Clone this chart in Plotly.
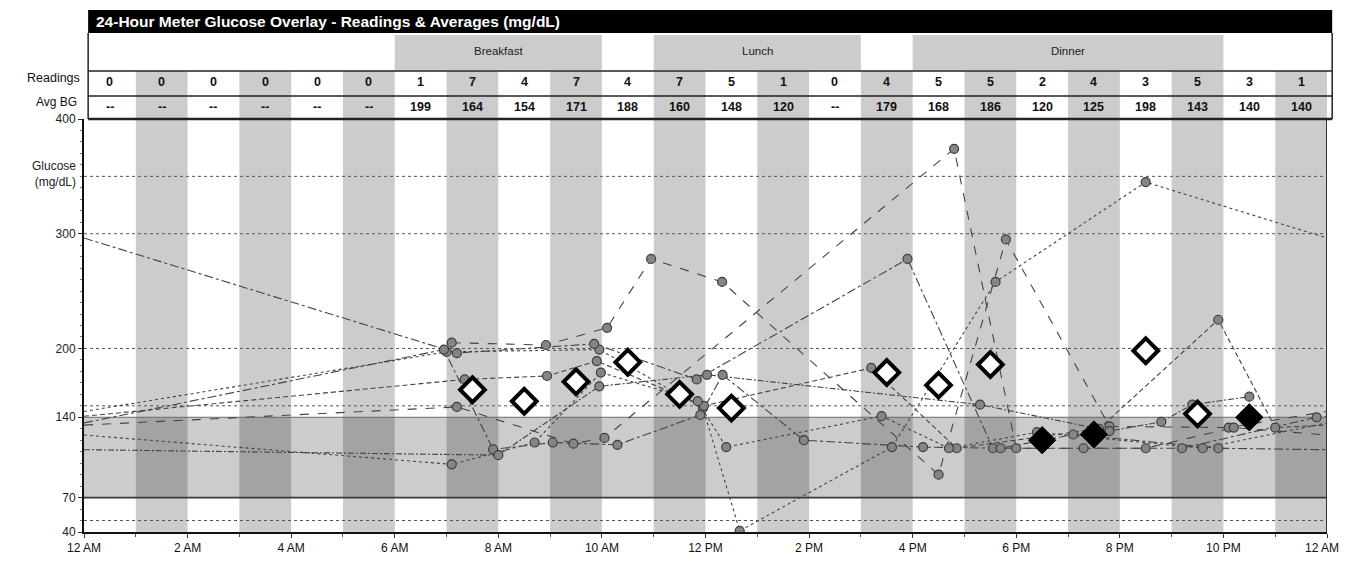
import plotly.graph_objects as go

# ---------------- data ----------------
hour_ticks = [0, 2, 4, 6, 8, 10, 12, 14, 16, 18, 20, 22, 24]
hour_labels = ["12 AM", "2 AM", "4 AM", "6 AM", "8 AM", "10 AM", "12 PM",
               "2 PM", "4 PM", "6 PM", "8 PM", "10 PM", "12 AM"]
readings_count = [0, 0, 0, 0, 0, 0, 1, 7, 4, 7, 4, 7, 5, 1, 0, 4, 5, 5, 2, 4, 3, 5, 3, 1]
avg_bg = [None, None, None, None, None, None, 199, 164, 154, 171, 188, 160, 148, 120,
          None, 179, 168, 186, 120, 125, 198, 143, 140, 140]
meal_names = ["Breakfast", "Lunch", "Dinner"]
meal_start = [6, 11, 16]
meal_end = [10, 15, 22]
y_ticks = [40, 70, 140, 200, 300, 400]
grid_vals = [50, 150, 200, 300, 350]
target_low = 70
target_high = 140

# readings per day (hour of day, mg/dL)
day_hours = [
    [7.1, 8.92, 10.1, 10.95, 12.32, 16.5, 17.8, 19.8, 22.1],
    [7.0, 9.95, 11.95, 12.66, 15.6, 17.6, 20.5],
    [7.2, 9.85, 11.83, 15.9, 17.55, 19.3, 21.2, 23.8],
    [7.35, 8.94, 9.9, 11.97, 15.2, 16.85, 19.6, 21.9, 23.0],
    [7.2, 9.45, 10.05, 16.8, 18.0, 20.5, 22.2],
    [7.1, 8.7, 9.98, 11.85, 12.4, 15.4, 16.7, 18.4, 21.6],
    [6.95, 7.9, 9.05, 10.3, 11.9, 12.33, 13.9, 16.2, 17.7, 19.1, 21.9],
    [8.0, 9.95, 12.03, 17.3, 19.8, 20.8, 21.4, 22.5],
]
day_bg = [
    [205, 203, 218, 278, 258, 90, 295, 132, 131],
    [197, 199, 148, 41, 114, 258, 345],
    [196, 204, 173, 278, 113, 113, 113, 140],
    [173, 176, 189, 150, 183, 113, 130, 225, 131],
    [149, 117, 122, 374, 113, 113, 131],
    [99, 118, 179, 154, 114, 141, 113, 127, 113],
    [199, 112, 118, 116, 142, 177, 120, 114, 113, 125, 113],
    [107, 167, 177, 151, 128, 136, 151, 158],
]

# ---------------- layout helpers ----------------
OFF = 8                      # page offset of the figure (body margin)
W, H = 1350 - OFF, 568 - 2 * OFF
PLOT_LEFT, PLOT_RIGHT = 84, 1327   # target page pixels
PLOT_TOP, PLOT_BOTTOM = 119, 532
M_L = PLOT_LEFT - OFF
M_R = W - (PLOT_RIGHT - OFF)
M_T = 0
M_B = H - (PLOT_BOTTOM - OFF)
plot_h = H - M_T - M_B
y_dom_top = (PLOT_BOTTOM - PLOT_TOP) / plot_h


def py(px):
    """page pixel row -> paper y"""
    return (PLOT_BOTTOM - px) / plot_h


def pxp(px):
    """page pixel column -> paper x"""
    return (px - PLOT_LEFT) / (PLOT_RIGHT - PLOT_LEFT)


def xp(h):
    return h / 24.0


FONT = "Liberation Sans, Arial, sans-serif"
LINE_COL = "#444444"
SHADE = "rgba(0,0,0,0.20)"

fig = go.Figure()

# wrap lines across midnight
n_days = len(day_hours)
mid_in = [None] * n_days
mid_out = [None] * n_days
for i in range(n_days - 1):
    t1, v1 = day_hours[i][-1], day_bg[i][-1]
    t2, v2 = day_hours[i + 1][0] + 24, day_bg[i + 1][0]
    vm = v1 + (v2 - v1) * (24 - t1) / (t2 - t1)
    mid_out[i] = vm
    mid_in[i + 1] = vm

dashes = ["dash", "dot", "dashdot", "5px,3px", "dash", "dot", "dashdot", "6px,2px,2px,2px"]
for i in range(n_days):
    xs = list(day_hours[i])
    ys = list(day_bg[i])
    if mid_in[i] is not None:
        xs = [0] + xs
        ys = [mid_in[i]] + ys
    if mid_out[i] is not None:
        xs = xs + [24]
        ys = ys + [mid_out[i]]
    fig.add_trace(go.Scatter(x=xs, y=ys, mode="lines",
                             line=dict(color=LINE_COL, width=1.1, dash=dashes[i % len(dashes)]),
                             hoverinfo="skip", showlegend=False))

all_x = [h for d in day_hours for h in d]
all_y = [v for d in day_bg for v in d]
fig.add_trace(go.Scatter(x=all_x, y=all_y, mode="markers",
                         marker=dict(symbol="circle", size=9, color="#858585",
                                     line=dict(color="#3c3c3c", width=1.2)),
                         showlegend=False))

# averages as diamonds (only when 2+ readings)
open_x, open_y, fill_x, fill_y = [], [], [], []
for h in range(24):
    if avg_bg[h] is not None and readings_count[h] >= 2:
        if avg_bg[h] <= target_high:
            fill_x.append(h + 0.5)
            fill_y.append(avg_bg[h])
        else:
            open_x.append(h + 0.5)
            open_y.append(avg_bg[h])
fig.add_trace(go.Scatter(x=open_x, y=open_y, mode="markers",
                         marker=dict(symbol="diamond", size=19, color="white",
                                     line=dict(color="black", width=4)),
                         showlegend=False))
fig.add_trace(go.Scatter(x=fill_x, y=fill_y, mode="markers",
                         marker=dict(symbol="diamond", size=21, color="black",
                                     line=dict(color="black", width=1)),
                         showlegend=False))

shapes = []
annotations = []

# hour column shading in plot
for h in range(1, 24, 2):
    shapes.append(dict(type="rect", xref="x", yref="y", x0=h, x1=h + 1, y0=40, y1=400,
                       fillcolor=SHADE, line=dict(width=0), layer="below"))
# target band
shapes.append(dict(type="rect", xref="x", yref="y", x0=0, x1=24, y0=target_low, y1=target_high,
                   fillcolor=SHADE, line=dict(width=0), layer="below"))
# dotted grid
for g in grid_vals:
    shapes.append(dict(type="line", xref="x", yref="y", x0=0, x1=24, y0=g, y1=g,
                       line=dict(color="#555555", width=1, dash="dot"), layer="below"))
# target lines
shapes.append(dict(type="line", xref="x", yref="y", x0=0, x1=24, y0=target_low, y1=target_low,
                   line=dict(color="#3a3a3a", width=1.6), layer="below"))
shapes.append(dict(type="line", xref="x", yref="y", x0=0, x1=24, y0=target_high, y1=target_high,
                   line=dict(color="#6a6a6a", width=1), layer="below"))
# right border
shapes.append(dict(type="line", xref="x", yref="y", x0=24, x1=24, y0=40, y1=400,
                   line=dict(color="#333333", width=2)))

# ---------------- table ----------------
tb_left = xp(0.08)
tb_right = xp(24.1)
shapes.append(dict(type="rect", xref="paper", yref="paper", x0=tb_left, x1=tb_right,
                   y0=py(33), y1=py(10), fillcolor="black", line=dict(width=0)))
annotations.append(dict(xref="paper", yref="paper", x=xp(0.2), y=py(21.5),
                        text="<b>24-Hour Meter Glucose Overlay - Readings &amp; Averages (mg/dL)</b>",
                        showarrow=False, xanchor="left", yanchor="middle",
                        font=dict(family=FONT, size=15.5, color="white")))
for name, s, e in zip(meal_names, meal_start, meal_end):
    shapes.append(dict(type="rect", xref="paper", yref="paper", x0=xp(s), x1=xp(e),
                       y0=py(70), y1=py(35), fillcolor=SHADE, line=dict(width=0)))
    annotations.append(dict(xref="paper", yref="paper", x=xp((s + e) / 2), y=py(51),
                            text=name, showarrow=False, xanchor="center", yanchor="middle",
                            font=dict(family=FONT, size=11.5, color="#222222")))
for h in range(1, 24, 2):
    shapes.append(dict(type="rect", xref="paper", yref="paper", x0=xp(h), x1=xp(h + 1),
                       y0=py(119), y1=py(71), fillcolor=SHADE, line=dict(width=0)))
for p, wdt in [(71, 1.5), (96, 1.5), (119, 2.5)]:
    shapes.append(dict(type="line", xref="paper", yref="paper", x0=tb_left, x1=tb_right,
                       y0=py(p), y1=py(p), line=dict(color="#222222", width=wdt)))
shapes.append(dict(type="line", xref="paper", yref="paper", x0=tb_left, x1=tb_left,
                   y0=py(119), y1=py(33), line=dict(color="#222222", width=1.5)))
shapes.append(dict(type="line", xref="paper", yref="paper", x0=tb_right, x1=tb_right,
                   y0=py(119), y1=py(33), line=dict(color="#222222", width=1.5)))

for h in range(24):
    annotations.append(dict(xref="paper", yref="paper", x=xp(h + 0.5), y=py(82),
                            text="<b>%d</b>" % readings_count[h], showarrow=False,
                            xanchor="center", yanchor="middle",
                            font=dict(family=FONT, size=12.5, color="#111111")))
    txt = "<b>--</b>" if avg_bg[h] is None else "<b>%d</b>" % avg_bg[h]
    annotations.append(dict(xref="paper", yref="paper", x=xp(h + 0.5), y=py(107),
                            text=txt, showarrow=False, xanchor="center", yanchor="middle",
                            font=dict(family=FONT, size=12.5, color="#111111")))

annotations.append(dict(xref="paper", yref="paper", x=-0.002, y=py(78), text="Readings",
                        showarrow=False, xanchor="right", yanchor="middle",
                        font=dict(family=FONT, size=12.5, color="#111111")))
annotations.append(dict(xref="paper", yref="paper", x=-0.004, y=py(102), text="Avg BG",
                        showarrow=False, xanchor="right", yanchor="middle",
                        font=dict(family=FONT, size=12, color="#111111")))
annotations.append(dict(xref="paper", yref="y", x=-0.005, y=352, text="Glucose<br>(mg/dL)",
                        showarrow=False, xanchor="right", yanchor="middle", align="right",
                        font=dict(family=FONT, size=12, color="#222222")))

# last x tick label drawn right-aligned so it stays inside the page
tick_text = list(hour_labels[:-1]) + [""]
annotations.append(dict(xref="paper", yref="paper", x=pxp(1341), y=py(548),
                        text=hour_labels[-1], showarrow=False, xanchor="right",
                        yanchor="middle", font=dict(family=FONT, size=12, color="#111111")))

fig.update_layout(
    width=W, height=H,
    margin=dict(l=M_L, r=M_R, t=M_T, b=M_B, autoexpand=False),
    paper_bgcolor="white", plot_bgcolor="white",
    shapes=shapes, annotations=annotations,
    showlegend=False,
    xaxis=dict(range=[0, 24], tickmode="array", tickvals=hour_ticks, ticktext=tick_text,
               showgrid=False, zeroline=False, showline=True, linecolor="#111111", linewidth=2,
               ticks="outside", ticklen=4, tickcolor="#333333", automargin=False,
               minor=dict(tickmode="linear", tick0=0, dtick=1, ticks="outside", ticklen=3,
                          tickcolor="#555555", showgrid=False),
               tickfont=dict(family=FONT, size=12, color="#111111")),
    yaxis=dict(range=[40, 400], domain=[0, y_dom_top], tickmode="array", tickvals=y_ticks,
               ticktext=[str(v) for v in y_ticks], automargin=False,
               showgrid=False, zeroline=False, showline=True, linecolor="#111111", linewidth=2,
               ticks="outside", ticklen=4, tickcolor="#333333",
               minor=dict(tickmode="linear", tick0=0, dtick=10, ticks="outside", ticklen=2,
                          tickcolor="#777777", showgrid=False),
               tickfont=dict(family=FONT, size=12, color="#222222")),
)

fig.write_html("out.html")
